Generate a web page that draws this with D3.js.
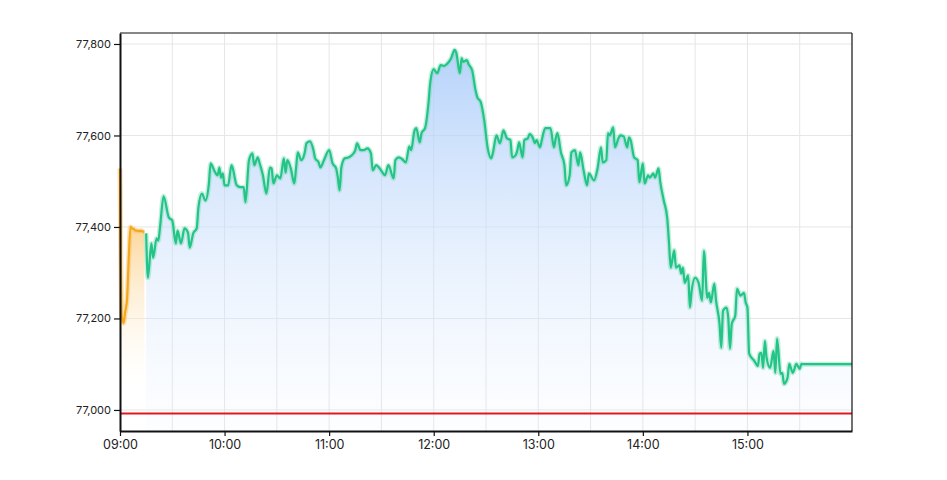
<!DOCTYPE html>
<html>
<head>
  <meta charset="utf-8">
  <title>Intraday price chart</title>
  <script src="https://d3js.org/d3.v7.min.js"></script>
  <style>
    body { margin: 0; background: #fff; }
    text { font-family: Inter, "Noto Sans", sans-serif; }
  </style>
</head>
<body>
  <script>
    // pre-open session (orange)
    const preTimes = ["09:00","09:01","09:02","09:03","09:04","09:05","09:06","09:07","09:08","09:09","09:10","09:11","09:12","09:13","09:14"];
    const preValues = [77528,77205,77190,77215,77240,77330,77400,77397,77395,77392,77392,77391,77392,77390,77390];

    // regular session (green)
    const mainTimes = ["09:15","09:16","09:18","09:19","09:21","09:22","09:23","09:25","09:28","09:30","09:32","09:33","09:35","09:37","09:39","09:40","09:42","09:44","09:45","09:47","09:49","09:51","09:52","09:54","09:56","09:57","09:58","09:59",
      "10:00","10:02","10:04","10:07","10:09","10:11","10:12","10:14","10:16","10:17","10:19","10:20","10:22","10:24","10:26","10:27","10:28","10:30","10:32","10:34","10:35","10:36","10:38","10:40","10:41","10:42","10:44","10:46","10:47","10:49","10:51","10:52","10:54","10:55","10:57",
      "11:00","11:02","11:04","11:05","11:06","11:07","11:09","11:11","11:13","11:15","11:16","11:18","11:20","11:22","11:24","11:25","11:27","11:29","11:31","11:32","11:34","11:37","11:38","11:40","11:42","11:44","11:46","11:47","11:49","11:50","11:52","11:53","11:55","11:57","11:58",
      "12:00","12:02","12:04","12:06","12:08","12:10","12:12","12:13","12:15","12:16","12:17","12:19","12:20","12:22","12:24","12:25","12:27","12:29","12:31","12:33","12:34","12:36","12:38","12:40","12:42","12:44","12:45","12:47","12:48","12:49","12:51","12:52","12:54","12:55","12:57","12:58","12:59",
      "13:01","13:02","13:04","13:07","13:09","13:10","13:11","13:13","13:15","13:16","13:18","13:19","13:21","13:23","13:24","13:26","13:28","13:29","13:32","13:34","13:36","13:37","13:39","13:40","13:41","13:43","13:44","13:46","13:47","13:49","13:51","13:52","13:53","13:55","13:57","13:58",
      "14:00","14:01","14:03","14:04","14:06","14:07","14:09","14:10","14:12","14:14","14:15","14:16","14:18","14:19","14:21","14:22","14:23","14:24","14:26","14:27","14:28","14:30","14:32","14:34","14:35","14:37","14:38","14:39","14:41","14:42","14:44","14:45","14:46","14:48","14:49","14:50","14:51","14:53","14:54","14:56","14:58","14:59",
      "15:00","15:01","15:04","15:06","15:07","15:08","15:09","15:10","15:11","15:13","15:15","15:16","15:17","15:19","15:20","15:21","15:23","15:24","15:26","15:27","15:28","15:30","15:31","15:32","16:00"];
    const mainValues = [77386,77289,77364,77333,77375,77370,77401,77467,77421,77414,77364,77392,77364,77397,77388,77355,77386,77397,77443,77473,77458,77495,77539,77524,77513,77530,77508,77517,
      77491,77491,77535,77491,77487,77487,77454,77546,77561,77535,77552,77541,77513,77473,77530,77528,77495,77513,77506,77550,77519,77546,77528,77495,77528,77563,77546,77563,77583,77587,77568,77550,77541,77530,77546,
      77568,77539,77528,77508,77480,77530,77550,77552,77557,77568,77583,77568,77568,77572,77561,77524,77535,77528,77517,77513,77535,77506,77546,77552,77548,77541,77576,77568,77611,77616,77585,77605,77616,77671,77715,
      77745,77736,77754,77752,77758,77769,77787,77780,77736,77769,77761,77765,77756,77743,77699,77684,77673,77633,77572,77550,77563,77600,77583,77611,77594,77590,77552,77557,77568,77585,77552,77590,77594,77603,77594,77583,77590,
      77574,77590,77616,77616,77574,77594,77605,77563,77535,77491,77513,77563,77568,77535,77563,77524,77491,77517,77502,77528,77574,77541,77546,77605,77600,77618,77574,77594,77600,77598,77574,77596,77590,77552,77546,77498,
      77539,77495,77513,77508,77517,77508,77528,77498,77458,77419,77366,77311,77349,77311,77316,77298,77311,77278,77294,77224,77261,77289,77278,77239,77348,77245,77256,77235,77276,77239,77188,77136,77217,77224,77202,77134,77188,77206,77265,77250,77256,77235,
      77224,77123,77107,77096,77123,77125,77092,77151,77114,77092,77129,77081,77156,77079,77081,77057,77070,77101,77081,77090,77101,77090,77101,77100,77100];

    const yTicks = [77000, 77200, 77400, 77600, 77800];
    const xTicks = ["09:00","10:00","11:00","12:00","13:00","14:00","15:00"];
    const refValue = 76992; // red reference line

    const width = 947, height = 480;
    const margin = { top: 33, right: 95, bottom: 49, left: 120 };
    const w = width - margin.left - margin.right;
    const h = height - margin.top - margin.bottom;

    const parse = d3.timeParse("%H:%M");
    const pre = preTimes.map((t, i) => ({ t: parse(t), v: preValues[i] }));
    const main = mainTimes.map((t, i) => ({ t: parse(t), v: mainValues[i] }));

    const x = d3.scaleTime().domain([parse("09:00"), parse("16:00")]).range([0, w]);
    const y = d3.scaleLinear().domain([76954, 77824]).range([h, 0]);

    const svg = d3.select("body").append("svg")
      .attr("width", width)
      .attr("height", height);

    const defs = svg.append("defs");

    const g = svg.append("g")
      .attr("transform", "translate(" + margin.left + "," + margin.top + ")");

    // grid
    const halfHours = d3.timeMinute.every(30).range(parse("09:30"), parse("16:00"));
    g.append("g").selectAll("line")
      .data(halfHours)
      .enter().append("line")
      .attr("x1", d => x(d)).attr("x2", d => x(d))
      .attr("y1", 0).attr("y2", h)
      .attr("stroke", "#e6e6e6").attr("stroke-width", 1);
    g.append("g").selectAll("line")
      .data(yTicks)
      .enter().append("line")
      .attr("x1", 0).attr("x2", w)
      .attr("y1", d => y(d)).attr("y2", d => y(d))
      .attr("stroke", "#e6e6e6").attr("stroke-width", 1);

    // gradients
    const blue = defs.append("linearGradient")
      .attr("id", "blueFill")
      .attr("gradientUnits", "userSpaceOnUse")
      .attr("x1", 0).attr("x2", 0)
      .attr("y1", y(d3.max(mainValues))).attr("y2", h);
    blue.append("stop").attr("offset", "0%").attr("stop-color", "#a9cbfa").attr("stop-opacity", 0.85);
    blue.append("stop").attr("offset", "100%").attr("stop-color", "#e6f0fe").attr("stop-opacity", 0.1);

    const orange = defs.append("linearGradient")
      .attr("id", "orangeFill")
      .attr("gradientUnits", "userSpaceOnUse")
      .attr("x1", 0).attr("x2", 0)
      .attr("y1", y(77400)).attr("y2", y(77050));
    orange.append("stop").attr("offset", "0%").attr("stop-color", "#fbd08a").attr("stop-opacity", 0.85);
    orange.append("stop").attr("offset", "100%").attr("stop-color", "#fff6e6").attr("stop-opacity", 0);

    const area = d3.area()
      .x(d => x(d.t))
      .y0(h)
      .y1(d => y(d.v))
      .curve(d3.curveMonotoneX);

    const line = d3.line()
      .x(d => x(d.t))
      .y(d => y(d.v))
      .curve(d3.curveMonotoneX);

    g.append("path").datum(main).attr("d", area).attr("fill", "url(#blueFill)");
    g.append("path").datum(pre).attr("d", area).attr("fill", "url(#orangeFill)");

    // reference line
    g.append("line")
      .attr("x1", 0).attr("x2", w)
      .attr("y1", y(refValue)).attr("y2", y(refValue))
      .attr("stroke", "#e3171d").attr("stroke-width", 2);

    // lines with a soft halo
    g.append("path").datum(main).attr("d", line)
      .attr("fill", "none").attr("stroke", "#7fdcb6").attr("stroke-opacity", 0.45).attr("stroke-width", 5)
      .attr("stroke-linejoin", "round");
    g.append("path").datum(main).attr("d", line)
      .attr("fill", "none").attr("stroke", "#22c487").attr("stroke-width", 2.2)
      .attr("stroke-linejoin", "round");
    g.append("path").datum(pre).attr("d", line)
      .attr("fill", "none").attr("stroke", "#f9c46a").attr("stroke-opacity", 0.5).attr("stroke-width", 5)
      .attr("stroke-linejoin", "round");
    g.append("path").datum(pre).attr("d", line)
      .attr("fill", "none").attr("stroke", "#f6a81c").attr("stroke-width", 2.2)
      .attr("stroke-linejoin", "round");

    // frame top/right
    g.append("line").attr("x1", 0).attr("x2", w).attr("y1", 0).attr("y2", 0)
      .attr("stroke", "#111").attr("stroke-width", 1.2);
    g.append("line").attr("x1", w).attr("x2", w).attr("y1", 0).attr("y2", h)
      .attr("stroke", "#111").attr("stroke-width", 1.2);

    // axes
    const xAxis = g.append("g")
      .attr("transform", "translate(0," + h + ")")
      .call(d3.axisBottom(x)
        .tickValues(xTicks.map(parse))
        .tickFormat(d3.timeFormat("%H:%M"))
        .tickSizeInner(5)
        .tickSizeOuter(0)
        .tickPadding(4));
    const yAxis = g.append("g")
      .call(d3.axisLeft(y)
        .tickValues(yTicks)
        .tickFormat(d3.format(","))
        .tickSizeInner(6)
        .tickSizeOuter(0)
        .tickPadding(3));

    [xAxis, yAxis].forEach(a => {
      a.select(".domain").attr("stroke", "#111").attr("stroke-width", 2);
      a.selectAll(".tick line").attr("stroke", "#111").attr("stroke-width", 1.2);
      a.selectAll("text").attr("fill", "#222");
    });
    xAxis.selectAll("text").style("font-size", "12.5px");
    yAxis.selectAll("text").style("font-size", "11px");
  </script>
</body>
</html>
